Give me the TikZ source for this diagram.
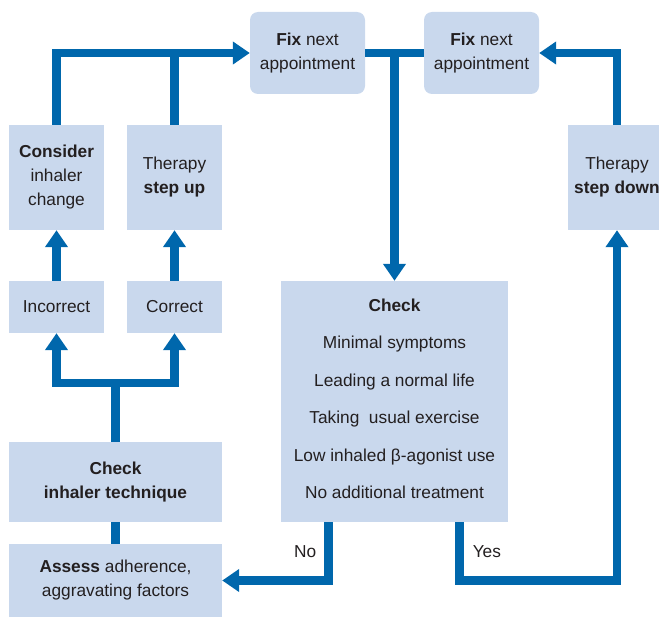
\documentclass[tikz,border=0pt]{standalone}
\usepackage{fontspec}
\setmainfont{Liberation Sans}
\usepackage{xcolor}
\usepackage{tikz}
\usetikzlibrary{arrows.meta,calc,positioning}
\definecolor{boxblue}{HTML}{C9D8ED}
\definecolor{lineblue}{HTML}{0067AC}
\definecolor{ink}{HTML}{231F20}
\tikzset{
  base/.style={fill=boxblue,draw=none,align=center,inner sep=0pt,text=ink,
               font=\fontsize{17.3pt}{24pt}\selectfont},
  appt/.style={base,rounded corners=8pt,minimum width=115pt,minimum height=82pt},
  smallbox/.style={base,minimum width=95pt,minimum height=105pt},
  answer/.style={base,minimum width=95pt,minimum height=52pt},
  widebox/.style={base,minimum width=213pt},
  link/.style={draw=lineblue,line width=8.5pt},
  flow/.style={link,-{Triangle[width=22pt,length=17pt]}},
  lbl/.style={text=ink,font=\fontsize{17.3pt}{24pt}\selectfont,inner sep=0pt}
}
\begin{document}
\begin{tikzpicture}[x=1pt,y=-1pt]
  \useasboundingbox (0,0) rectangle (659,618);
  % appointments
  \node[appt] (fixA) at (307.5,53) {\textbf{Fix} next\\appointment};
  \node[appt] (fixB) at (481.5,53) {\textbf{Fix} next\\appointment};
  % left branch
  \node[smallbox] (consider) at (56.5,177.5) {\textbf{Consider}\\inhaler\\change};
  \node[smallbox] (stepup) at (174.5,177.5) {Therapy\\\textbf{step up}};
  \node[answer] (incorrect) at (56.5,307) {Incorrect};
  \node[answer] (correct) at (174.5,307) {Correct};
  \node[widebox,minimum height=80pt] (inhaler) at (115.5,482) {\textbf{Check}\\\textbf{inhaler technique}};
  \node[widebox,minimum height=73pt] (assess) at (115.5,580.5) {\textbf{Assess} adherence,\\aggravating factors};
  % right branch
  \node[smallbox,minimum width=98pt] (stepdown) at (617,177.5) {Therapy\\\textbf{step down}};
  \node[base,minimum width=227pt,minimum height=241pt,
        font=\fontsize{17.3pt}{37.4pt}\selectfont] (check) at (394.5,401.5)
        {\textbf{Check}\\Minimal symptoms\\Leading a normal life\\Taking~ usual exercise\\
         Low inhaled β-agonist use\\No additional treatment\\[-32pt]};
  \coordinate (fork) at (115.5,383);
  % connectors
  \draw[flow] (consider.north) |- (fixA.west);
  \draw[link] (stepup.north) -- (stepup.north |- fixA.west);
  \draw[link] (fixA.east) -- (fixB.west);
  \draw[flow] (fixA.east -| check.north) -- (check.north);
  \draw[flow] (stepdown.north) |- (fixB.east);
  \draw[flow] (incorrect.north) -- (consider.south);
  \draw[flow] (correct.north) -- (stepup.south);
  \draw[link] (inhaler.north) -- (fork);
  \draw[flow] (fork) -| (incorrect.south);
  \draw[flow] (fork) -| (correct.south);
  \draw[link] (assess.north) -- (inhaler.south);
  \draw[flow] ([xshift=-66pt]check.south) |- node[lbl,pos=.25,left=8pt] {No} (assess.east);
  \draw[flow] ([xshift=65pt]check.south) |- node[lbl,pos=.25,right=9pt] {Yes}
    (assess.east -| stepdown.south) -- (stepdown.south);
\end{tikzpicture}
\end{document}
